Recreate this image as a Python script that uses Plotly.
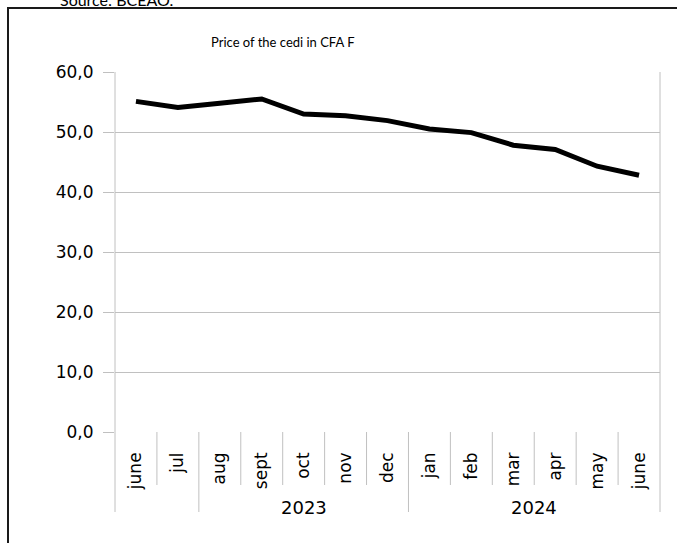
import plotly.graph_objects as go

months = ["june", "jul", "aug", "sept", "oct", "nov", "dec",
          "jan", "feb", "mar", "apr", "may", "june"]
years = ["2023", "2024"]
year_groups = [(2, 6), (7, 12)]  # index ranges (inclusive) labelled by each year
price = [55.1, 54.1, 54.8, 55.5, 53.0, 52.7, 51.9,
         50.5, 49.9, 47.8, 47.1, 44.3, 42.8]
y_ticks = [0, 10, 20, 30, 40, 50, 60]

title_text = "Price of the cedi in CFA F"
source_text = "Source: BCEAO."

W, H = 677, 543
ML, MR, MT, MB = 115, 17, 72, 111
PW, PH = W - ML - MR, H - MT - MB

def py(pix):  # pixel y -> paper y
    return (H - MB - pix) / PH

def px(pix):  # pixel x -> paper x
    return (pix - ML) / PW

GRID = "#c0c0c0"
idx = list(range(len(months)))

fig = go.Figure()
fig.add_trace(go.Scatter(x=idx, y=price, mode="lines",
                         line=dict(color="#000000", width=5),
                         hoverinfo="skip", showlegend=False))

shapes = []
# month separators
for i in range(len(months) - 1):
    b = i + 0.5
    long_ = any(b == g[0] - 0.5 for g in year_groups)
    shapes.append(dict(type="line", xref="x", yref="paper", x0=b, x1=b,
                       y0=0, y1=py(512) if long_ else py(485),
                       line=dict(color=GRID, width=1)))
# edges of plot / category area
for xe in (0, 1):
    shapes.append(dict(type="line", xref="paper", yref="paper", x0=xe, x1=xe,
                       y0=1, y1=py(512), line=dict(color=GRID, width=1)))
# outer frame
shapes.append(dict(type="rect", xref="paper", yref="paper",
                   x0=px(8), x1=px(690), y0=py(8), y1=py(560),
                   line=dict(color="#1a1a1a", width=2)))

annotations = [
    dict(text=title_text, xref="paper", yref="paper", x=px(283), y=py(42),
         xanchor="center", yanchor="middle", showarrow=False,
         font=dict(family="Lato", size=13, color="#000000")),
    dict(text=source_text, xref="paper", yref="paper", x=px(58), y=py(-1),
         xanchor="left", yanchor="middle", showarrow=False,
         font=dict(family="Lato", size=16, color="#000000")),
]
for yr, (a, b) in zip(years, year_groups):
    annotations.append(dict(text=yr, xref="x", yref="paper", x=(a + b) / 2,
                            y=py(507), xanchor="center", yanchor="middle",
                            showarrow=False,
                            font=dict(family="DejaVu Sans", size=18, color="#000000")))

fig.update_layout(
    width=W, height=H,
    margin=dict(l=ML, r=MR, t=MT, b=MB, pad=0),
    paper_bgcolor="#ffffff", plot_bgcolor="#ffffff",
    separators=", ",
    shapes=shapes, annotations=annotations,
    xaxis=dict(range=[-0.5, len(months) - 0.5], tickmode="array",
               tickvals=idx, ticktext=months, tickangle=-90,
               ticks="", showgrid=False, zeroline=False, showline=False,
               ticklabelstandoff=16,
               tickfont=dict(family="DejaVu Sans", size=17, color="#000000")),
    yaxis=dict(range=[0, 60], tickmode="array", tickvals=y_ticks,
               tickformat=".1f", ticks="outside", ticklen=11, tickcolor=GRID,
               tickwidth=1, showgrid=True, gridcolor=GRID, gridwidth=1,
               zeroline=False, showline=False, ticklabelstandoff=6,
               tickfont=dict(family="DejaVu Sans", size=17, color="#000000")),
)

fig.write_html("out.html",
               config={"displayModeBar": False, "staticPlot": True},
               post_script="document.body.style.margin='0';"
                           "document.body.style.overflow='hidden';")
